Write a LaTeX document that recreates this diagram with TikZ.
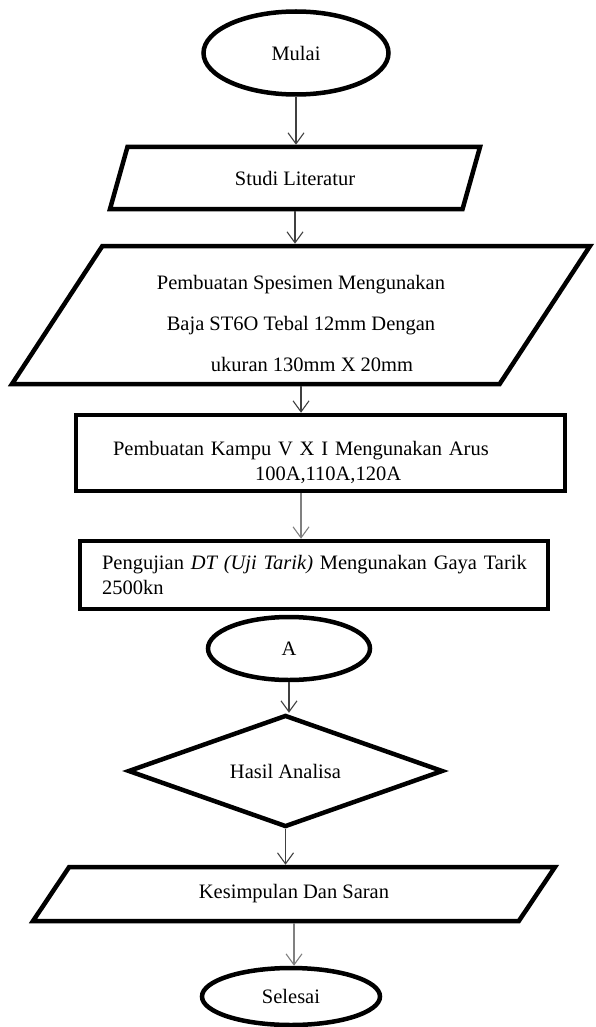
\documentclass[tikz,border=0pt]{standalone}
\usepackage{fontspec}
\setmainfont{Liberation Serif}
\usetikzlibrary{shapes.geometric,arrows.meta}

\begin{document}
\begin{tikzpicture}[x=1pt,y=-1pt]
\tikzstyle{every node}=[font=\fontsize{20.5}{25}\selectfont,line width=4.5pt];
\tikzstyle{terminal}=[draw,ellipse,inner sep=0pt];
\tikzstyle{inout}=[draw,trapezium,trapezium stretches body,inner sep=0pt,align=center];
\tikzstyle{process}=[draw,rectangle,align=left,inner ysep=0pt];
\tikzstyle{decision}=[draw,diamond,inner sep=0pt,aspect=2.8];
\tikzstyle{line}=[draw=black!75,line width=1.1pt,-{Straight Barb[length=11pt,width=16pt]}];
\useasboundingbox (0,0) rectangle (595,1027);

\node[terminal,minimum width=185pt,minimum height=83pt] (mulai) at (296,53) {Mulai};
\node[inout,trapezium left angle=39.6,trapezium right angle=140.4,
  minimum width=370pt,minimum height=62pt] (studi) at (295,178) {Studi Literatur};
\node[inout,trapezium left angle=51.4,trapezium right angle=128.6,
  minimum width=578pt,minimum height=138pt] (spesimen) at (301,315)
  {\rule{0pt}{31pt}Pembuatan Spesimen Mengunakan\\[16pt]
   Baja ST6O Tebal 12mm Dengan\\[16pt]
   \hspace*{22pt}ukuran 130mm X 20mm};
\node[process,text width=415pt,inner xsep=37pt,minimum height=76pt] (kampu) at (320.5,453)
  {\rule{0pt}{33pt}Pembuatan Kampu V X I Mengunakan Arus\\
   \hspace*{142pt}100A,110A,120A};
\node[process,text width=444pt,inner xsep=12pt,minimum height=68pt] (pengujian) at (314,575)
  {\hspace*{10pt}Pengujian \textit{DT (Uji Tarik)} Mengunakan Gaya Tarik\\
   \hspace*{10pt}2500kn};
\node[terminal,minimum width=162pt,minimum height=63pt] (a) at (289,648.5) {A};
\node[decision,minimum width=315pt,minimum height=112pt] (hasil) at (285.5,771) {Hasil Analisa};
\node[inout,trapezium left angle=27.2,trapezium right angle=152.8,
  minimum width=522pt,minimum height=54pt] (kesimpulan) at (294,894) {Kesimpulan Dan Saran};
\node[terminal,minimum width=178pt,minimum height=57pt] (selesai) at (291,996.5) {Selesai};

% arah alur
\draw[line] (mulai.south) -- (mulai.south |- studi.north);
\draw[line] (studi.south) -- (studi.south |- spesimen.north);
\draw[line] (spesimen.south) -- (spesimen.south |- kampu.north);
\draw[line,draw=gray] (spesimen.south |- kampu.south) -- (spesimen.south |- pengujian.north);
\draw[line] (a.south) -- (a.south |- hasil.north);
\draw[line] (hasil.south) -- (hasil.south |- kesimpulan.north);
\draw[line,draw=gray] (kesimpulan.south) -- (kesimpulan.south |- selesai.north);
\end{tikzpicture}
\end{document}
